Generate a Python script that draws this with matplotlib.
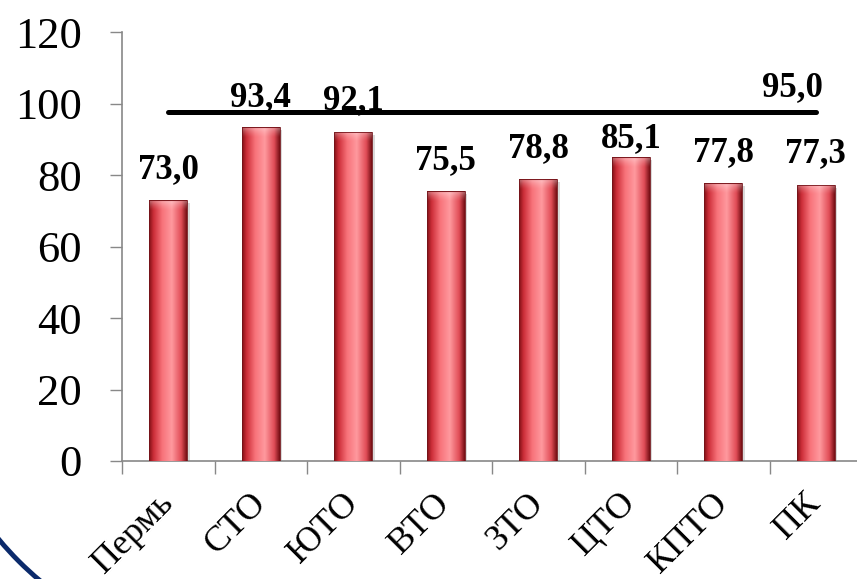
import numpy as np
import matplotlib
matplotlib.use('Agg')
import matplotlib.pyplot as plt
from matplotlib.patches import Arc, Rectangle
from matplotlib.colors import LinearSegmentedColormap

# data
categories = ['Пермь', 'СТО', 'ЮТО', 'ВТО', 'ЗТО', 'ЦТО', 'КПТО', 'ПК']
values = [73.0, 93.4, 92.1, 75.5, 78.8, 85.1, 77.8, 77.3]
value_labels = ['73,0', '93,4', '92,1', '75,5', '78,8', '85,1', '77,8', '77,3']
target_label = '95,0'
target_level = 97.7   # where the line is drawn in the picture

# label baseline gap above each bar (points); ЦТО is pulled down under the line
label_gap = [16, 15, 16, 16, 16, 7, 16, 16]

plt.rcParams['font.family'] = ['Liberation Serif', 'DejaVu Serif']

fig = plt.figure(figsize=(8.57, 5.79), dpi=100)
ax = fig.add_axes([0.1424, 0.2038, 0.8635, 0.7409])

x = np.arange(len(categories))
bars = ax.bar(x, values, width=0.41, color='none', edgecolor='none', zorder=3)

# cylinder-like horizontal shading
bar_cmap = LinearSegmentedColormap.from_list('cyl', [
    (0.00, (0.50, 0.06, 0.08)),
    (0.12, (0.80, 0.18, 0.22)),
    (0.35, (0.97, 0.45, 0.48)),
    (0.60, (1.00, 0.60, 0.62)),
    (0.85, (0.88, 0.30, 0.34)),
    (1.00, (0.45, 0.05, 0.07)),
])
grad = np.linspace(0, 1, 256).reshape(1, -1)

# top bevel: thin dark rim then a soft light band fading downwards
n = 40
t = np.linspace(0, 1, n)          # 0 = bottom of band, 1 = top edge
bevel = np.zeros((n, 1, 4))
bevel[..., :3] = 1.0
bevel[:, 0, 3] = 0.40 * t ** 1.5
bevel[t > 0.9, 0, :3] = (0.55, 0.08, 0.1)
bevel[t > 0.9, 0, 3] = 0.6

for b in bars:
    x0, w, h = b.get_x(), b.get_width(), b.get_height()
    # soft shadow
    ax.add_patch(Rectangle((x0 + 0.025, -0.8), w, h, facecolor='black',
                           alpha=0.15, edgecolor='none', zorder=2))
    im = ax.imshow(grad, cmap=bar_cmap, aspect='auto',
                   extent=(x0, x0 + w, 0, h), zorder=3)
    im.set_clip_path(b)
    im2 = ax.imshow(bevel, aspect='auto', origin='lower',
                    extent=(x0, x0 + w, h - 3.0, h), zorder=4)
    im2.set_clip_path(b)
    ax.add_patch(Rectangle((x0, 0), w, h, facecolor='none',
                           edgecolor=(0.45, 0.08, 0.1), lw=0.6, zorder=5))

for xi, v, lab, g in zip(x, values, value_labels, label_gap):
    ax.annotate(lab, (xi, v), xytext=(0, g), textcoords='offset points',
                ha='center', va='baseline', fontsize=25, fontweight='bold',
                zorder=6)

ax.plot([x[0], x[-1]], [target_level, target_level], color='black', lw=3.6,
        solid_capstyle='round', zorder=6)
ax.annotate(target_label, (x[-1], target_level), xytext=(5, 11),
            textcoords='offset points', ha='right', va='baseline',
            fontsize=25, fontweight='bold', zorder=6)

ax.set_xlim(-0.5, len(categories) - 0.5)
ax.set_ylim(0, 120)
ax.set_yticks(np.arange(0, 121, 20))
ax.set_xticks(x)
ax.set_xticks(np.arange(-0.5, len(categories), 1.0), minor=True)
ax.set_xticklabels(categories, rotation=45, ha='right', va='center',
                   rotation_mode='anchor', fontsize=26)
ax.tick_params(axis='y', labelsize=32, length=9, width=1, color='#888888', pad=20)
ax.tick_params(axis='x', which='major', length=0, pad=27)
ax.tick_params(axis='x', which='minor', length=9, width=1, color='#888888')

for side in ['top', 'right']:
    ax.spines[side].set_visible(False)
for side in ['left', 'bottom']:
    ax.spines[side].set_color('#888888')
    ax.spines[side].set_linewidth(1.2)

# slide decoration in the lower left corner
arc = Arc((250, 249), 2 * 327, 2 * 327, theta1=205, theta2=245,
          transform=None, color='#0b2a6b', lw=3.5)
fig.patches.append(arc)

fig.savefig('out.png', dpi=100)
